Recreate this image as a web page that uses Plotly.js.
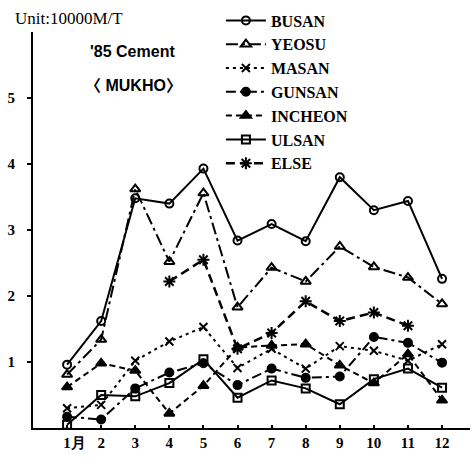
<!DOCTYPE html>
<html><head><meta charset="utf-8">
<script src="https://cdn.plot.ly/plotly-3.0.1.min.js"></script>
<style>html,body{margin:0;padding:0;background:#fff}#c{width:474px;height:462px}</style>
</head><body><div id="c"></div>
<script>
const months = [1,2,3,4,5,6,7,8,9,10,11,12];
const monthLabels = ["\u00a0\u00a0\u00a0\u00a01月","2","3","4","5","6","7","8","9","10","11","12"];
const busan   = [0.96,1.62,3.48,3.40,3.93,2.84,3.09,2.83,3.80,3.30,3.44,2.26];
const yeosu   = [0.81,1.34,3.62,2.52,3.56,1.83,2.43,2.22,2.75,2.44,2.28,1.88];
const masan   = [0.30,0.35,1.02,1.31,1.53,0.91,1.20,0.90,1.24,1.17,1.02,1.27];
const gunsan  = [0.17,0.13,0.60,0.84,0.98,0.65,0.90,0.76,0.78,1.38,1.29,0.99];
const incheon = [0.62,0.98,0.87,0.22,0.64,1.22,1.25,1.27,0.95,0.68,1.12,0.42];
const ulsan   = [0.05,0.50,0.48,0.68,1.04,0.46,0.72,0.60,0.36,0.74,0.90,0.61];
const other   = [null,null,null,2.22,2.55,1.20,1.44,1.92,1.62,1.75,1.55,null];
const names = ["BUSAN","YEOSU","MASAN","GUNSAN","INCHEON","ULSAN","ELSE"];

const styles = [
  {dash:"solid", sym:"circle-open", size:8},
  {dash:"12px,4px,3px,4px", sym:"triangle-up-open", size:9},
  {dash:"3px,4px", sym:"x-thin-open", size:8},
  {dash:"10px,4px,3px,4px", sym:"circle", size:8},
  {dash:"6px,4px", sym:"triangle-up", size:9},
  {dash:"solid", sym:"square-open", size:8},
  {dash:"9px,5px", sym:"asterisk-open", size:10}
];
const series = [busan,yeosu,masan,gunsan,incheon,ulsan,other];
const traces = series.map((s,i)=>({
  x: months, y: s, name: names[i], type:"scatter", mode:"lines+markers",
  legendgroup: "g"+i,
  line:{color:"#000", width: i===6?2.5:2, dash: styles[i].dash},
  marker:{symbol: styles[i].sym, size: styles[i].size, color:"#000", line:{color:"#000", width:2}},
  connectgaps:false
}));

const layout = {
  width:474, height:462,
  margin:{l:33, r:4, t:28, b:34},
  paper_bgcolor:"#fff", plot_bgcolor:"#fff",
  showlegend:true,
  legend:{x:0.43, y:1.072, xanchor:"left", yanchor:"top", bgcolor:"rgba(0,0,0,0)",
    font:{family:"Liberation Serif, serif", size:16, color:"#000", weight:"bold"},
    tracegroupgap:0, itemwidth:40, traceorder:"grouped"},
  xaxis:{range:[0,12.82], tickmode:"array", tickvals:months, ticktext:monthLabels,
    showgrid:false, zeroline:false, showline:true, linecolor:"#000", linewidth:2,
    ticks:"inside", ticklen:3, tickwidth:2, tickcolor:"#000",
    tickfont:{family:"Liberation Serif, serif", size:15, color:"#000", weight:"bold"}},
  yaxis:{range:[0,6], tickmode:"array", tickvals:[1,2,3,4,5], ticktext:["1","2","3","4","5"],
    showgrid:false, zeroline:false, showline:true, linecolor:"#000", linewidth:2,
    ticks:"outside", ticklen:4, tickwidth:2, tickcolor:"#000", ticklabelstandoff:9,
    tickfont:{family:"Liberation Serif, serif", size:15, color:"#000", weight:"bold"}},
  annotations:[
    {text:"Unit:10000M/T", xref:"paper", yref:"paper", x:-0.045, y:1.033, xanchor:"left", yanchor:"middle",
     showarrow:false, font:{family:"Liberation Serif, serif", size:17, color:"#000"}},
    {text:"'85 Cement", xref:"paper", yref:"paper", x:0.125, y:0.95, xanchor:"left", yanchor:"middle",
     showarrow:false, font:{family:"Liberation Sans, sans-serif", size:16, color:"#000", weight:"bold"}},
    {text:"〈 MUKHO〉", xref:"paper", yref:"paper", x:0.115, y:0.865, xanchor:"left", yanchor:"middle",
     showarrow:false, font:{family:"Liberation Sans, Noto Sans CJK KR, sans-serif", size:16, color:"#000", weight:"bold"}}
  ]
};
Plotly.newPlot("c", traces, layout, {staticPlot:true, displayModeBar:false});
</script></body></html>
